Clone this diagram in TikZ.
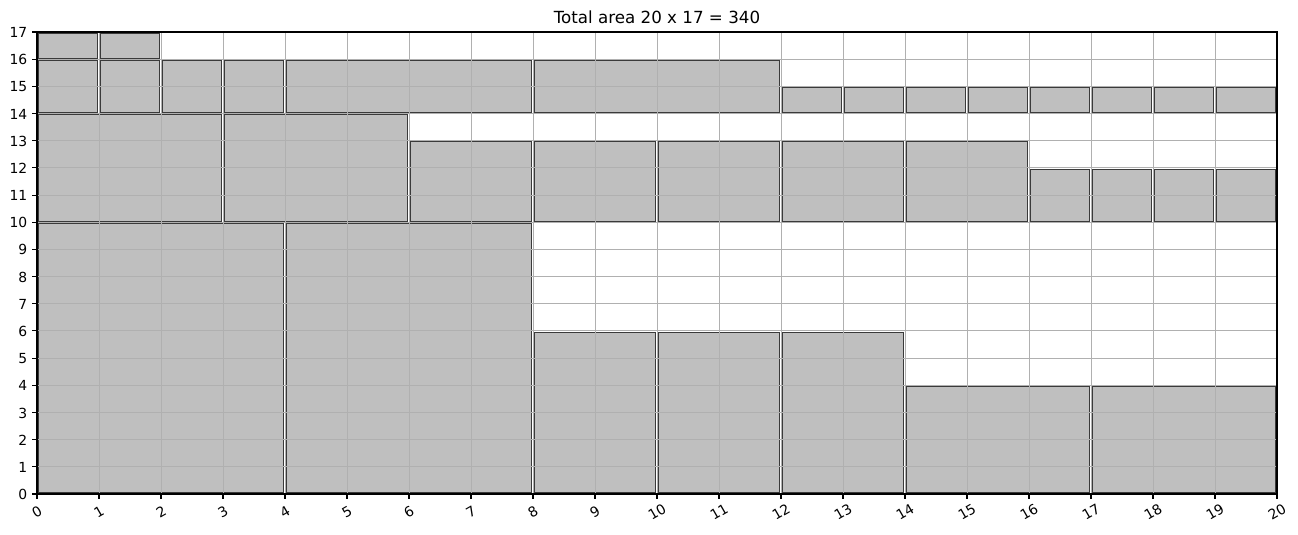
\documentclass[tikz,border=0pt]{standalone}
\usepackage{fontspec}
\setmainfont{DejaVu Sans}
\definecolor{rectfill}{HTML}{BFBFBF}
\definecolor{rectedge}{HTML}{3A3A3A}
\definecolor{gridc}{HTML}{B0B0B0}
\begin{document}
\begin{tikzpicture}[x=62pt,y=27.17647pt,
  box/.style={fill=rectfill,draw=rectedge,line width=0.85pt},
  gridline/.style={draw=gridc,line width=1pt},
  spine/.style={draw=black,line width=1.1pt},
  tickmark/.style={draw=black,line width=1.1pt},
  xlab/.style={font=\fontsize{13.9}{16}\selectfont,rotate=30,anchor=center,inner sep=0pt},
  ylab/.style={font=\fontsize{13.9}{16}\selectfont,anchor=east,inner sep=0pt},
  titlelab/.style={font=\fontsize{16.7}{20}\selectfont,anchor=base,inner sep=0pt}]
\useasboundingbox (-37pt,-41pt) rectangle (1261pt,494pt);
% rectangles
\foreach \x/\y/\w/\h in {0/0/4/10,4/0/4/10,8/0/2/6,10/0/2/6,12/0/2/6,14/0/3/4,17/0/3/4,
  0/10/3/4,3/10/3/4,6/10/2/3,8/10/2/3,10/10/2/3,12/10/2/3,14/10/2/3,16/10/1/2,17/10/1/2,18/10/1/2,19/10/1/2,
  0/14/1/2,1/14/1/2,2/14/1/2,3/14/1/2,4/14/4/2,8/14/4/2,
  12/14/1/1,13/14/1/1,14/14/1/1,15/14/1/1,16/14/1/1,17/14/1/1,18/14/1/1,19/14/1/1,
  0/16/1/1,1/16/1/1}
  \draw[box] ([xshift=1.1pt,yshift=1.1pt]\x,\y) rectangle ([xshift=-1.1pt,yshift=-1.1pt]{\x+\w},{\y+\h});
% grid
\draw[gridline] (0,0) grid[step=1] (20,17);
% spines
\draw[spine] (0,0) rectangle (20,17);
% ticks and labels
\foreach \i in {0,...,20} {
  \draw[tickmark] (\i,0) -- ([yshift=-4.9pt]\i,0);
  \node[xlab] (xl\i) at ([yshift=-18pt]\i,0) {\i};
}
\foreach \j in {0,...,17} {
  \draw[tickmark] (0,\j) -- ([xshift=-4.9pt]0,\j);
  \node[ylab] (yl\j) at ([xshift=-9.5pt,yshift=-0.5pt]0,\j) {\j};
}
\node[titlelab] (title) at ([yshift=8pt]10,17) {Total area 20 x 17 = 340};
\end{tikzpicture}
\end{document}
